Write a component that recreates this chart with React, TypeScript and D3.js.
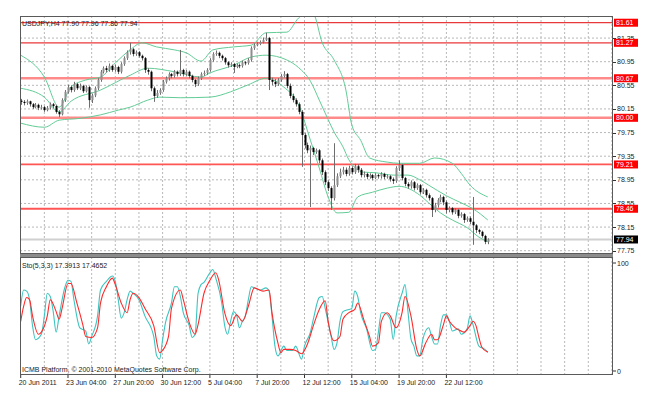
import React from "react";
import * as d3 from "d3";

const closes = [
  80.27, 80.25, 80.28, 80.23, 80.18, 80.22, 80.17, 80.18, 80.13, 80.17,
  80.23, 80.20, 80.10, 80.06, 80.30, 80.44, 80.52, 80.47, 80.57, 80.50,
  80.54, 80.45, 80.52, 80.30, 80.38, 80.50, 80.64, 80.78, 80.84, 80.81,
  80.88, 80.81, 80.86, 80.78, 80.91, 81.01, 81.11, 81.16, 81.08, 81.11,
  81.05, 81.01, 80.81, 80.78, 80.50, 80.37, 80.42, 80.47, 80.61, 80.67,
  80.74, 80.71, 80.78, 80.74, 80.81, 80.74, 80.78, 80.71, 80.64, 80.57,
  80.67, 80.74, 80.76, 80.81, 80.98, 81.08, 81.10, 81.05, 81.01, 80.94,
  80.89, 80.91, 80.86, 80.89, 80.88, 80.94, 80.93, 80.98, 81.18, 81.23,
  81.25, 81.28, 81.32, 81.35, 80.64, 80.61, 80.57, 80.64, 80.71, 80.74,
  80.54, 80.37, 80.30, 80.23, 80.10, 79.71, 79.54, 79.45, 79.49, 79.42,
  79.45, 79.28, 79.08, 78.91, 78.81, 78.64, 78.86, 79.01, 79.08, 79.12,
  79.05, 79.15, 79.08, 79.18, 79.12, 79.03, 79.05, 79.00, 79.03, 78.98,
  79.03, 79.01, 79.05, 79.00, 79.01, 78.96, 78.93, 79.15, 79.20, 78.98,
  78.88, 78.84, 78.91, 78.81, 78.86, 78.74, 78.78, 78.69, 78.64, 78.44,
  78.52, 78.61, 78.66, 78.57, 78.44, 78.47, 78.40, 78.44, 78.34, 78.37,
  78.27, 78.30, 78.24, 78.18, 78.10, 78.07, 78.00, 77.90, 77.94,
];
const highs = [
  80.32, 80.30, 80.31, 80.29, 80.25, 80.25, 80.24, 80.22, 80.20, 80.20,
  80.26, 80.25, 80.22, 80.13, 80.33, 80.47, 80.56, 80.55, 80.61, 80.59,
  80.58, 80.56, 80.55, 80.54, 80.41, 80.53, 80.67, 80.81, 80.87, 80.88,
  80.92, 80.90, 80.90, 80.88, 80.94, 81.04, 81.14, 81.27, 81.18, 81.14,
  81.13, 81.07, 81.03, 80.84, 80.80, 80.53, 80.47, 80.50, 80.64, 80.70,
  80.77, 80.76, 80.81, 80.80, 81.15, 80.83, 80.81, 80.80, 80.73, 80.66,
  80.70, 80.77, 80.80, 80.84, 81.01, 81.11, 81.14, 81.12, 81.07, 81.03,
  80.96, 80.94, 80.93, 80.92, 80.92, 80.97, 80.96, 81.01, 81.21, 81.26,
  81.28, 81.31, 81.36, 81.44, 81.37, 80.68, 80.66, 80.67, 80.74, 80.79,
  80.76, 80.58, 80.41, 80.33, 80.26, 80.13, 79.74, 79.58, 79.53, 79.51,
  79.48, 79.47, 79.31, 79.11, 78.94, 78.84, 79.57, 79.06, 79.14, 79.17,
  79.16, 79.19, 79.18, 79.22, 79.21, 79.15, 79.09, 79.07, 79.06, 79.05,
  79.06, 79.05, 79.08, 79.07, 79.04, 79.03, 78.99, 79.18, 79.28, 79.22,
  79.00, 78.91, 78.94, 78.93, 78.89, 78.88, 78.81, 78.80, 78.72, 78.66,
  78.56, 78.64, 78.70, 78.68, 78.60, 78.50, 78.49, 78.47, 78.46, 78.40,
  78.39, 78.33, 78.33, 78.66, 78.20, 78.12, 78.09, 78.02, 77.96,
];
const lows = [
  80.22, 80.21, 80.22, 80.19, 80.15, 80.16, 80.13, 80.14, 80.10, 80.11,
  80.14, 80.16, 80.07, 80.01, 80.04, 80.27, 80.41, 80.43, 80.44, 80.47,
  80.47, 80.42, 80.43, 80.17, 80.25, 80.35, 80.47, 80.61, 80.75, 80.77,
  80.78, 80.78, 80.78, 80.74, 80.75, 80.88, 80.98, 81.07, 81.04, 81.05,
  81.02, 80.97, 80.76, 80.73, 80.45, 80.27, 80.34, 80.39, 80.44, 80.58,
  80.63, 80.67, 80.68, 80.70, 80.71, 80.70, 80.71, 80.67, 80.60, 80.52,
  80.54, 80.64, 80.71, 80.73, 80.78, 80.95, 81.05, 81.01, 80.97, 80.90,
  80.85, 80.86, 80.76, 80.84, 80.84, 80.85, 80.89, 80.90, 80.95, 81.15,
  81.21, 81.23, 81.26, 81.30, 80.47, 80.55, 80.52, 80.54, 80.61, 80.68,
  80.50, 80.33, 80.26, 80.19, 80.06, 79.17, 79.48, 79.40, 78.49, 79.37,
  79.39, 79.23, 79.03, 78.86, 78.76, 78.44, 78.60, 78.83, 78.98, 79.04,
  79.01, 79.02, 79.04, 79.05, 79.07, 78.99, 78.99, 78.96, 78.97, 78.94,
  78.96, 78.97, 78.97, 78.96, 78.97, 78.92, 78.88, 78.90, 79.10, 78.94,
  78.84, 78.80, 78.80, 78.77, 78.78, 78.70, 78.71, 78.65, 78.60, 78.32,
  78.40, 78.48, 78.57, 78.52, 78.38, 78.40, 78.36, 78.37, 78.30, 78.31,
  78.22, 78.24, 78.20, 77.85, 78.05, 78.03, 77.97, 77.86, 77.86,
];
const firstOpen = 80.29;
const lastPrice = 77.94;

const levels = [81.61, 81.27, 80.67, 80.0, 79.21, 78.46];
const priceTicks = [81.35, 80.95, 80.55, 80.15, 79.75, 79.35, 78.95, 78.55, 78.15, 77.75];
const timeLabels = [
  "20 Jun 2011", "23 Jun 04:00", "27 Jun 20:00", "30 Jun 12:00", "5 Jul 04:00",
  "7 Jul 20:00", "12 Jul 12:00", "15 Jul 04:00", "19 Jul 20:00", "22 Jul 12:00",
];
const stochTicks = [100, 0];

const bandUpper = [
  [0, 81.06], [8, 80.69], [13, 80.18], [17, 80.52], [22, 80.64], [27, 80.69], [32, 80.93],
  [37, 81.15], [41, 81.27], [46, 81.2], [52, 81.15], [56, 81.1], [61, 80.96], [65, 81.15],
  [72, 81.2], [78, 81.23], [83, 81.44], [90, 81.45], [94, 81.69], [97, 81.79], [99, 81.76],
  [102, 81.27], [106, 80.98], [110, 80.47], [112, 79.88], [115, 79.62], [118, 79.32],
  [124, 79.25], [128, 79.23], [135, 79.23], [140, 79.32], [146, 79.23], [149, 79.06],
  [152, 78.86], [158, 78.66],
];
const bandMiddle = [
  [0, 80.5], [8, 80.35], [13, 80.1], [17, 80.28], [27, 80.47], [37, 80.72], [43, 80.84],
  [52, 80.78], [61, 80.69], [64, 80.76], [72, 80.89], [78, 81.03], [83, 81.06], [90, 80.98],
  [94, 80.85], [98, 80.62], [101, 80.3], [104, 79.97], [106, 79.76], [109, 79.51],
  [111, 79.29], [116, 79.08], [120, 79.07], [126, 79.03], [131, 79.03], [135, 78.95],
  [138, 78.86], [144, 78.68], [149, 78.56], [153, 78.46], [158, 78.27],
];
const bandLower = [
  [0, 79.91], [8, 79.84], [13, 79.96], [20, 79.99], [27, 80.05], [33, 80.13], [37, 80.18],
  [43, 80.3], [47, 80.35], [54, 80.34], [64, 80.35], [71, 80.44], [77, 80.56], [83, 80.67],
  [89, 80.52], [94, 80.22], [98, 79.62], [101, 79.15], [104, 78.66], [107, 78.39],
  [111, 78.4], [114, 78.66], [119, 78.74], [124, 78.81], [128, 78.84], [135, 78.69],
  [138, 78.56], [142, 78.39], [146, 78.27], [151, 78.14], [155, 77.98], [158, 77.9],
];

const stochK = [
  [0, 60], [1, 75], [2, 74], [3, 66], [4, 42], [5, 29], [7, 34], [8, 51], [9, 72], [10, 69],
  [11, 55], [12, 36], [13, 51], [15, 78], [16, 84], [17, 83], [18, 66], [20, 40], [22, 37],
  [23, 25], [24, 32], [26, 51], [27, 75], [29, 83], [31, 88], [32, 83], [33, 66], [34, 49],
  [35, 54], [36, 66], [37, 74], [38, 72], [40, 66], [42, 51], [45, 32], [46, 14], [47, 11],
  [48, 29], [49, 45], [51, 63], [52, 78], [53, 78], [54, 69], [55, 54], [57, 42], [58, 31],
  [59, 34], [60, 72], [61, 80], [62, 82], [64, 91], [65, 94], [66, 86], [68, 63], [69, 42],
  [70, 34], [71, 46], [72, 55], [73, 52], [74, 40], [75, 46], [76, 51], [77, 66], [78, 78],
  [81, 75], [83, 77], [84, 74], [85, 51], [86, 23], [87, 14], [89, 23], [90, 19], [92, 19],
  [93, 23], [95, 11], [96, 23], [98, 36], [99, 48], [101, 68], [102, 69], [103, 58],
  [105, 32], [106, 20], [107, 26], [108, 46], [109, 55], [111, 57], [112, 58], [113, 74],
  [114, 69], [115, 54], [117, 39], [119, 19], [120, 20], [121, 36], [122, 54], [123, 54],
  [125, 48], [126, 29], [127, 51], [129, 72], [130, 80], [131, 55], [132, 30], [133, 23],
  [134, 14], [135, 14], [136, 29], [138, 40], [139, 32], [140, 25], [141, 25], [142, 42],
  [143, 52], [144, 52], [145, 46], [146, 37], [148, 39], [149, 34], [151, 39], [152, 51],
  [153, 43], [155, 23], [157, 20], [158, 17.39],
];
const stochD = [
  [0, 46], [1, 60], [2, 68], [3, 66], [4, 51], [6, 34], [7, 36], [9, 51], [10, 66], [12, 55],
  [13, 48], [14, 58], [16, 81], [17, 81], [19, 63], [21, 43], [22, 32], [24, 31], [26, 40],
  [27, 63], [29, 78], [31, 86], [32, 80], [34, 63], [36, 54], [37, 66], [38, 72], [40, 68],
  [42, 58], [45, 42], [47, 17], [48, 19], [50, 32], [51, 58], [54, 75], [55, 66], [57, 45],
  [59, 34], [60, 43], [62, 72], [64, 84], [66, 91], [67, 84], [69, 54], [71, 42], [73, 52],
  [75, 46], [77, 60], [79, 77], [82, 74], [84, 75], [85, 54], [87, 26], [88, 17], [89, 20],
  [91, 20], [93, 19], [95, 16], [97, 25], [99, 42], [101, 57], [103, 65], [104, 46],
  [106, 28], [108, 32], [109, 48], [111, 54], [113, 57], [114, 63], [116, 48], [118, 32],
  [119, 23], [121, 26], [122, 46], [124, 54], [125, 51], [127, 40], [129, 54], [130, 69],
  [132, 51], [134, 20], [135, 14], [137, 26], [139, 34], [140, 29], [141, 29], [143, 43],
  [144, 51], [145, 46], [147, 40], [149, 37], [150, 36], [152, 42], [153, 46], [154, 42],
  [155, 31], [156, 22], [158, 17.47],
];

const FONT = "'Liberation Sans', Arial, sans-serif";

export default function App() {
  const L = 20, R = 613, T = 16, B = 254, ST = 257, SB = 375;
  const x = d3.scaleLinear().domain([0, 8]).range([20.7, 44.35]);
  const y = d3.scaleLinear().domain([77.75, 80.95]).range([250.7, 61.7]);
  const ys = d3.scaleLinear().domain([0, 100]).range([371, 263]);

  const opens = closes.map((c, i) => (i === 0 ? firstOpen : closes[i - 1]));
  const bandLine = d3.line<number[]>().x((d) => x(d[0])).y((d) => y(d[1])).curve(d3.curveMonotoneX);
  const stLine = d3.line<number[]>().x((d) => x(d[0])).y((d) => ys(d[1])).curve(d3.curveMonotoneX);

  const gridK = d3.range(1, 26).map((k) => x(k * 8)).filter((v) => v < R - 0.5);
  const levelStyle = [
    { c: "#e8393a", w: 1.2 }, { c: "#e8393a", w: 1.2 }, { c: "#ff8a8a", w: 2.4 },
    { c: "#ff8a8a", w: 2.4 }, { c: "#ff5555", w: 1.8 }, { c: "#ff5555", w: 1.8 },
  ];

  return (
    <div style={{ position: "fixed", left: 0, top: 0 }}>
      <svg width={652} height={396} style={{ display: "block", background: "#fff" }} fontFamily={FONT}>
        <defs>
          <clipPath id="mainClip"><rect x={L} y={T} width={R - L} height={B - T} /></clipPath>
          <clipPath id="subClip"><rect x={L} y={ST} width={R - L} height={SB - ST} /></clipPath>
        </defs>
        <g stroke="#b8b8b8" strokeWidth={1} strokeDasharray="2,2">
          {gridK.map((gx, i) => (
            <g key={i}>
              <line x1={gx} x2={gx} y1={T} y2={B} />
              <line x1={gx} x2={gx} y1={ST} y2={SB} />
            </g>
          ))}
          {priceTicks.map((p, i) => (
            <line key={i} x1={L} x2={R} y1={y(p)} y2={y(p)} />
          ))}
        </g>
        <g clipPath="url(#mainClip)">
          <line x1={L} x2={R} y1={y(lastPrice)} y2={y(lastPrice)} stroke="#d0d0d0" strokeWidth={2} />
          {levels.map((lv, i) => (
            <line key={i} x1={L} x2={R} y1={y(lv)} y2={y(lv)} stroke={levelStyle[i].c} strokeWidth={levelStyle[i].w} />
          ))}
          {[bandUpper, bandMiddle, bandLower].map((bd, i) => (
            <path key={i} d={bandLine(bd) || ""} fill="none" stroke="#62cc96" strokeWidth={1} />
          ))}
          {closes.map((c, i) => {
            const o = opens[i];
            const hi = Math.max(highs[i], o, c);
            const lo = Math.min(lows[i], o, c);
            const bull = c >= o;
            const cx = Math.round(x(i)) + 0.5;
            const top = y(Math.max(o, c));
            const h = Math.max(1, y(Math.min(o, c)) - top);
            return (
              <g key={i}>
                <line x1={cx} x2={cx} y1={y(hi)} y2={y(lo)} stroke="#6e6e6e" strokeWidth={1} />
                <rect x={cx - 1} y={top} width={2} height={h} fill={bull ? "#8e8e8e" : "#000"} />
              </g>
            );
          })}
        </g>
        <g clipPath="url(#subClip)">
          <path d={stLine(stochK) || ""} fill="none" stroke="#3cc4c0" strokeWidth={1.1} />
          <path d={stLine(stochD) || ""} fill="none" stroke="#ff2a2a" strokeWidth={1.1} />
        </g>
        <rect x={L} y={B} width={R - L} height={ST - B} fill="#8c8c8c" />
        <rect x={L + 0.5} y={T + 0.5} width={R - L - 1} height={B - T - 1} fill="none" stroke="#5a5a5a" />
        <rect x={L + 0.5} y={ST + 0.5} width={R - L - 1} height={SB - ST - 1} fill="none" stroke="#5a5a5a" />
        <text x={22} y={23} fontSize={7} fill="#222" dominantBaseline="central">USDJPY,H4  77.90 77.96 77.86 77.94</text>
        <text x={22} y={265} fontSize={7} fill="#222" dominantBaseline="central">Sto(5,3,3) 17.3913 17.4652</text>
        <text x={22} y={369} fontSize={7} fill="#222" dominantBaseline="central">ICMB Platform, © 2001-2010 MetaQuotes Software Corp.</text>
        {priceTicks.map((p, i) => (
          <g key={i}>
            <line x1={R} x2={R + 3} y1={Math.round(y(p)) + 0.5} y2={Math.round(y(p)) + 0.5} stroke="#333" />
            <text x={617} y={y(p)} fontSize={7} fill="#222" dominantBaseline="central">{p.toFixed(2)}</text>
          </g>
        ))}
        {levels.map((lv, i) => (
          <g key={i}>
            <rect x={614} y={y(lv) - 4} width={24} height={8} fill="#ff0000" />
            <text x={616} y={y(lv)} fontSize={7} fill="#fff" dominantBaseline="central">{lv.toFixed(2)}</text>
          </g>
        ))}
        <rect x={614} y={y(lastPrice) - 4} width={24} height={8} fill="#000" />
        <text x={616} y={y(lastPrice)} fontSize={7} fill="#fff" dominantBaseline="central">{lastPrice.toFixed(2)}</text>
        {stochTicks.map((t, i) => (
          <g key={i}>
            <line x1={R} x2={R + 3} y1={ys(t)} y2={ys(t)} stroke="#333" />
            <text x={617} y={ys(t)} fontSize={7} fill="#222" dominantBaseline="central">{t}</text>
          </g>
        ))}
        {timeLabels.map((t, i) => {
          const tx = x(i * 16);
          return (
            <g key={i}>
              <line x1={tx} x2={tx} y1={SB} y2={SB + 3} stroke="#333" />
              <text x={tx - 2} y={382} fontSize={7} fill="#222" dominantBaseline="central">{t}</text>
            </g>
          );
        })}
      </svg>
    </div>
  );
}
